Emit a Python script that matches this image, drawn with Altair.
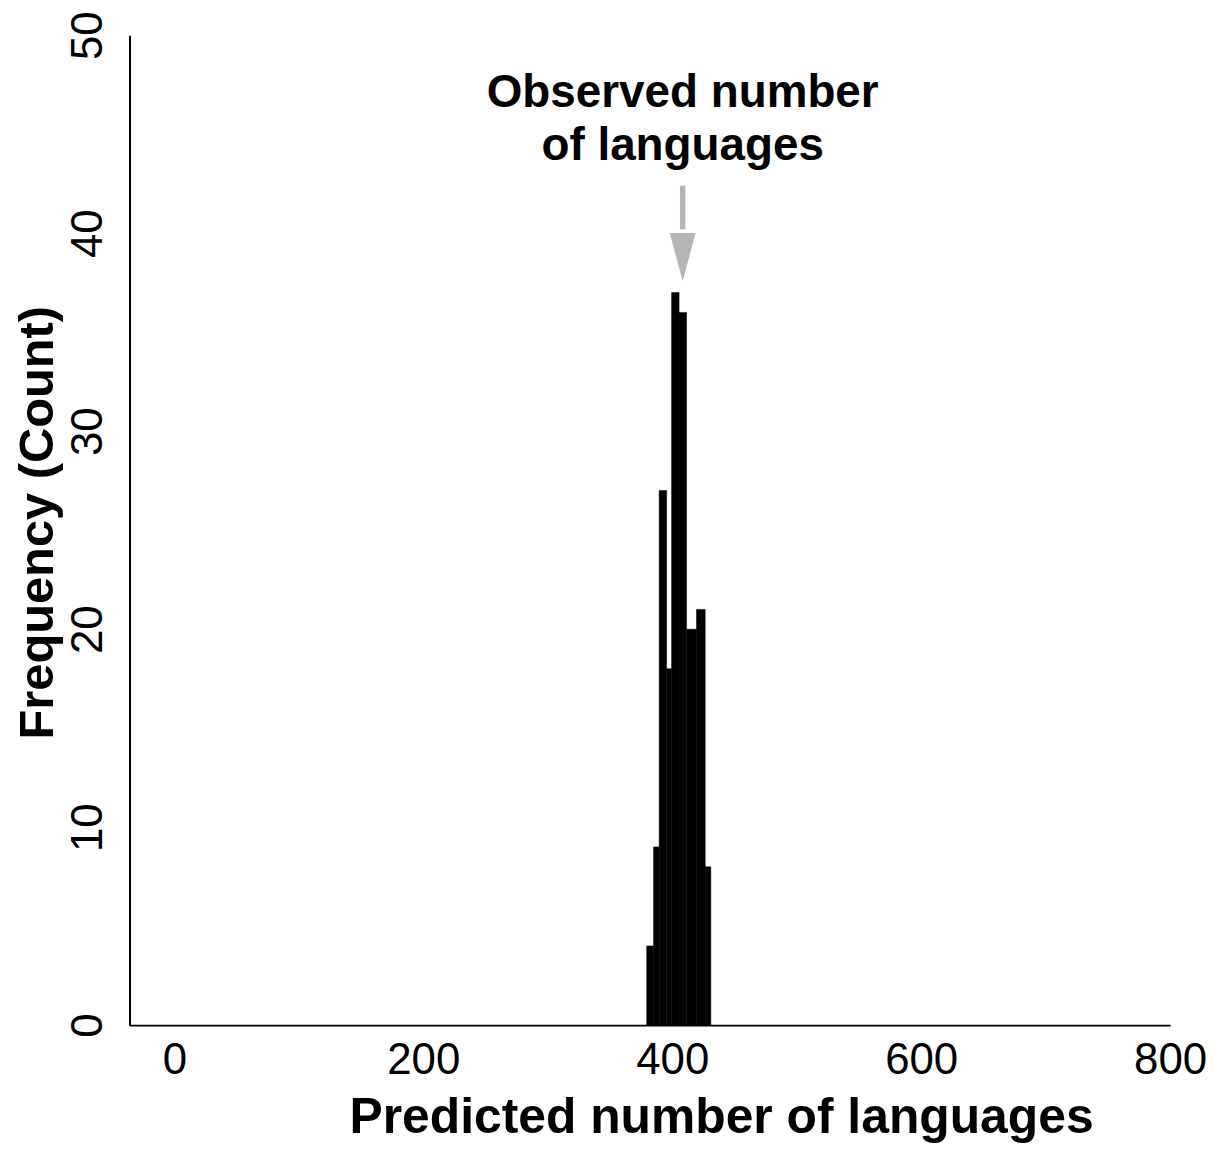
import altair as alt
import pandas as pd

# Histogram bins (predicted number of languages) and counts
bin_start = [379.5, 385.0, 389.5, 395.5, 399.5, 405.5, 411.5, 419.5, 426.5]
bin_end = [385.0, 389.5, 395.5, 399.5, 405.5, 411.5, 419.5, 426.5, 431.0]
counts = [4, 9, 27, 18, 37, 36, 20, 21, 8]

x_ticks = [0, 200, 400, 600, 800]
y_ticks = [0, 10, 20, 30, 40, 50]

observed = 408.4
annot_lines = ["Observed number", "of languages"]
annot_y = 46.4
arrow_top = 42.4
arrow_base = 40.2
arrow_head_mid = 38.8

FONT = "Liberation Sans, Arial, Helvetica, sans-serif"

bars_df = pd.DataFrame({"start": bin_start, "end": bin_end, "count": counts})

xscale = alt.Scale(domain=[-36, 800], nice=False, zero=False)
yscale = alt.Scale(domain=[0, 50], nice=False)

bars = alt.Chart(bars_df).mark_rect(color="black", stroke="black", strokeWidth=0.5).encode(
    x=alt.X("start:Q", scale=xscale,
            axis=alt.Axis(values=x_ticks, title="Predicted number of languages",
                          ticks=False, grid=False, domainColor="black", domainWidth=2,
                          labelFont=FONT, labelFontSize=44, labelColor="black",
                          labelPadding=14, labelFlush=False,
                          titleFont=FONT, titleFontSize=50, titleFontWeight="bold",
                          titleColor="black", titleX=594, titleY=108,
                          titleBaseline="alphabetic", titleAnchor="middle", titleAlign="center")),
    x2="end:Q",
    y=alt.Y("count:Q", scale=yscale,
            axis=alt.Axis(values=y_ticks, title="Frequency (Count)",
                          ticks=False, grid=False, domainColor="black", domainWidth=2,
                          labelFont=FONT, labelFontSize=44, labelColor="black",
                          labelAngle=-90, labelAlign="center", labelBaseline="alphabetic",
                          labelPadding=28, labelFlush=False,
                          titleFont=FONT, titleFontSize=49, titleFontWeight="bold",
                          titleColor="black", titleAngle=-90, titleX=-77, titleY=489,
                          titleBaseline="alphabetic", titleAlign="center")),
    y2=alt.datum(0),
)

annot_df = pd.DataFrame({"x": [observed], "y": [annot_y], "label": [annot_lines]})
annot = alt.Chart(annot_df).mark_text(
    font=FONT, fontSize=46, fontWeight="bold", color="black",
    align="center", baseline="alphabetic", lineHeight=54,
).encode(x=alt.X("x:Q", scale=xscale), y=alt.Y("y:Q", scale=yscale), text="label")

stem_df = pd.DataFrame({"x": [observed], "y": [arrow_top], "y2": [arrow_base]})
stem = alt.Chart(stem_df).mark_rule(color="#b5b5b5", strokeWidth=5.5).encode(
    x=alt.X("x:Q", scale=xscale), y=alt.Y("y:Q", scale=yscale), y2="y2:Q"
)

head_df = pd.DataFrame({"x": [observed], "y": [arrow_head_mid]})
head = alt.Chart(head_df).mark_point(
    shape="M-0.54,-1 L0.54,-1 L0,1 Z", size=2304, filled=True,
    color="#b5b5b5", opacity=1, strokeWidth=0,
).encode(x=alt.X("x:Q", scale=xscale), y=alt.Y("y:Q", scale=yscale))

chart = alt.layer(bars, stem, head, annot).properties(
    width=1045, height=994,
    padding={"left": 122, "top": 25, "right": 36, "bottom": 118},
    autosize=alt.AutoSizeParams(type="none"),
    background="white",
).configure_view(stroke=None)

chart.save("out.html", embed_options={"renderer": "svg", "actions": False})
